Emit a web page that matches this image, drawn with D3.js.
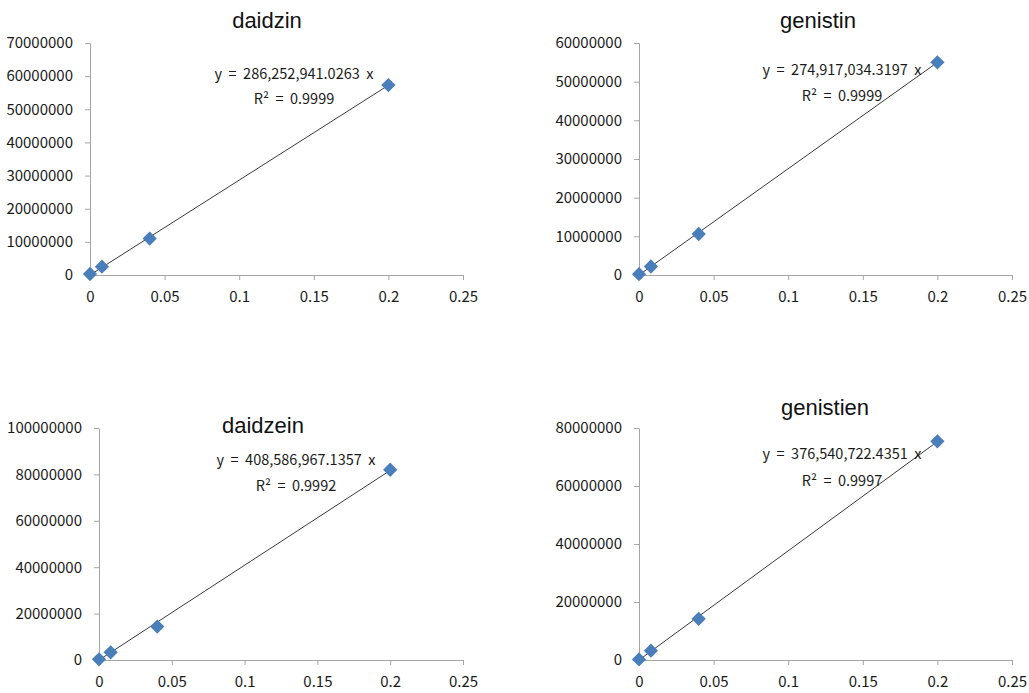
<!DOCTYPE html>
<html>
<head>
<meta charset="utf-8">
<script src="https://cdn.jsdelivr.net/npm/d3@7"></script>
<style>
  body { margin: 0; background: #fff; }
  svg text { white-space: pre; }
</style>
</head>
<body>
<div id="chart"></div>
<script>
// concentrations (x) shared by all four standards
const conc = [0, 0.008, 0.04, 0.2];

// peak areas
const daidzin   = [300000, 2500000, 11000000, 57300000];
const genistin  = [200000, 2200000, 10600000, 55000000];
const daidzein  = [300000, 3300000, 14400000, 82000000];
const genistien = [200000, 3200000, 14200000, 75400000];

const titles = ["daidzin", "genistin", "daidzein", "genistien"];
const slopes = ["286,252,941.0263", "274,917,034.3197", "408,586,967.1357", "376,540,722.4351"];
const slopeVals = [286252941.0263, 274917034.3197, 408586967.1357, 376540722.4351];
const r2 = ["0.9999", "0.9999", "0.9992", "0.9997"];
const yMaxes = [70000000, 60000000, 100000000, 80000000];
const yStep = [10000000, 10000000, 20000000, 20000000];
const xTicks = [0, 0.05, 0.1, 0.15, 0.2, 0.25];

const series = [daidzin, genistin, daidzein, genistien];

// where each panel sits on the page
const layout = [
  {x0: 90,  x1: 463,  top: 43,  bottom: 275, titleX: 267, titleY: 28,  eqX: 294, eqY: 79,  r2Y: 104},
  {x0: 639, x1: 1012, top: 43,  bottom: 275, titleX: 818, titleY: 28,  eqX: 842, eqY: 75,  r2Y: 101},
  {x0: 99,  x1: 463,  top: 428, bottom: 660, titleX: 263, titleY: 433, eqX: 296, eqY: 465, r2Y: 491},
  {x0: 639, x1: 1012, top: 428, bottom: 660, titleX: 825, titleY: 415, eqX: 842, eqY: 459, r2Y: 486}
];

const svg = d3.select("#chart")
  .append("svg")
  .attr("width", 1029)
  .attr("height", 693);

const tickFont = "'Noto Sans CJK KR', 'Noto Sans', sans-serif";

series.forEach(function(vals, i) {
  const L = layout[i];

  const x = d3.scaleLinear().domain([0, 0.25]).range([L.x0, L.x1]);
  const y = d3.scaleLinear().domain([0, yMaxes[i]]).range([L.bottom, L.top]);

  const g = svg.append("g");

  // x axis
  const xAxis = g.append("g")
    .attr("transform", `translate(0, ${L.bottom})`)
    .call(d3.axisBottom(x).tickValues(xTicks).tickSize(5).tickSizeOuter(0)
      .tickFormat(d => d3.format("")(+d.toFixed(2))));

  // y axis
  const yAxis = g.append("g")
    .attr("transform", `translate(${L.x0}, 0)`)
    .call(d3.axisLeft(y).tickValues(d3.range(0, yMaxes[i] + 1, yStep[i]))
      .tickSize(5).tickSizeOuter(0).tickFormat(d3.format("d")));

  [xAxis, yAxis].forEach(function(ax) {
    ax.select(".domain").attr("stroke", "#a6a6a6");
    ax.selectAll(".tick line").attr("stroke", "#a6a6a6");
    ax.selectAll(".tick text")
      .attr("fill", "#1a1a1a")
      .style("font-family", tickFont)
      .style("font-size", "15px");
  });
  xAxis.selectAll(".tick text").attr("dy", "1.25em");
  yAxis.selectAll(".tick text").attr("x", -17);

  // trend line through origin
  g.append("path")
    .datum([0, conc[conc.length - 1]])
    .attr("fill", "none")
    .attr("stroke", "#3a3a3a")
    .attr("stroke-width", 1)
    .attr("d", d3.line()
      .x(d => x(d))
      .y(d => y(d * slopeVals[i])));

  // data points
  g.selectAll(".pt")
    .data(conc.map((c, k) => [c, vals[k]]))
    .enter()
    .append("path")
    .attr("class", "pt")
    .attr("transform", d => `translate(${x(d[0])}, ${y(d[1])})`)
    .attr("d", d3.symbol().type(d3.symbolDiamond2).size(130))
    .attr("fill", "#4a7ebb");

  // title
  g.append("text")
    .attr("x", L.titleX)
    .attr("y", L.titleY)
    .attr("text-anchor", "middle")
    .style("font-family", "'Liberation Sans', Arial, sans-serif")
    .style("font-size", "22px")
    .attr("fill", "#111")
    .text(titles[i]);

  // equation and R squared
  g.append("text")
    .attr("x", L.eqX)
    .attr("y", L.eqY)
    .attr("text-anchor", "middle")
    .style("font-family", tickFont)
    .style("font-size", "14.5px")
    .attr("fill", "#1a1a1a")
    .text(`y  =  ${slopes[i]}  x`);

  g.append("text")
    .attr("x", L.eqX)
    .attr("y", L.r2Y)
    .attr("text-anchor", "middle")
    .style("font-family", tickFont)
    .style("font-size", "14.5px")
    .attr("fill", "#1a1a1a")
    .text(`R²  =  ${r2[i]}`);
});
</script>
</body>
</html>
